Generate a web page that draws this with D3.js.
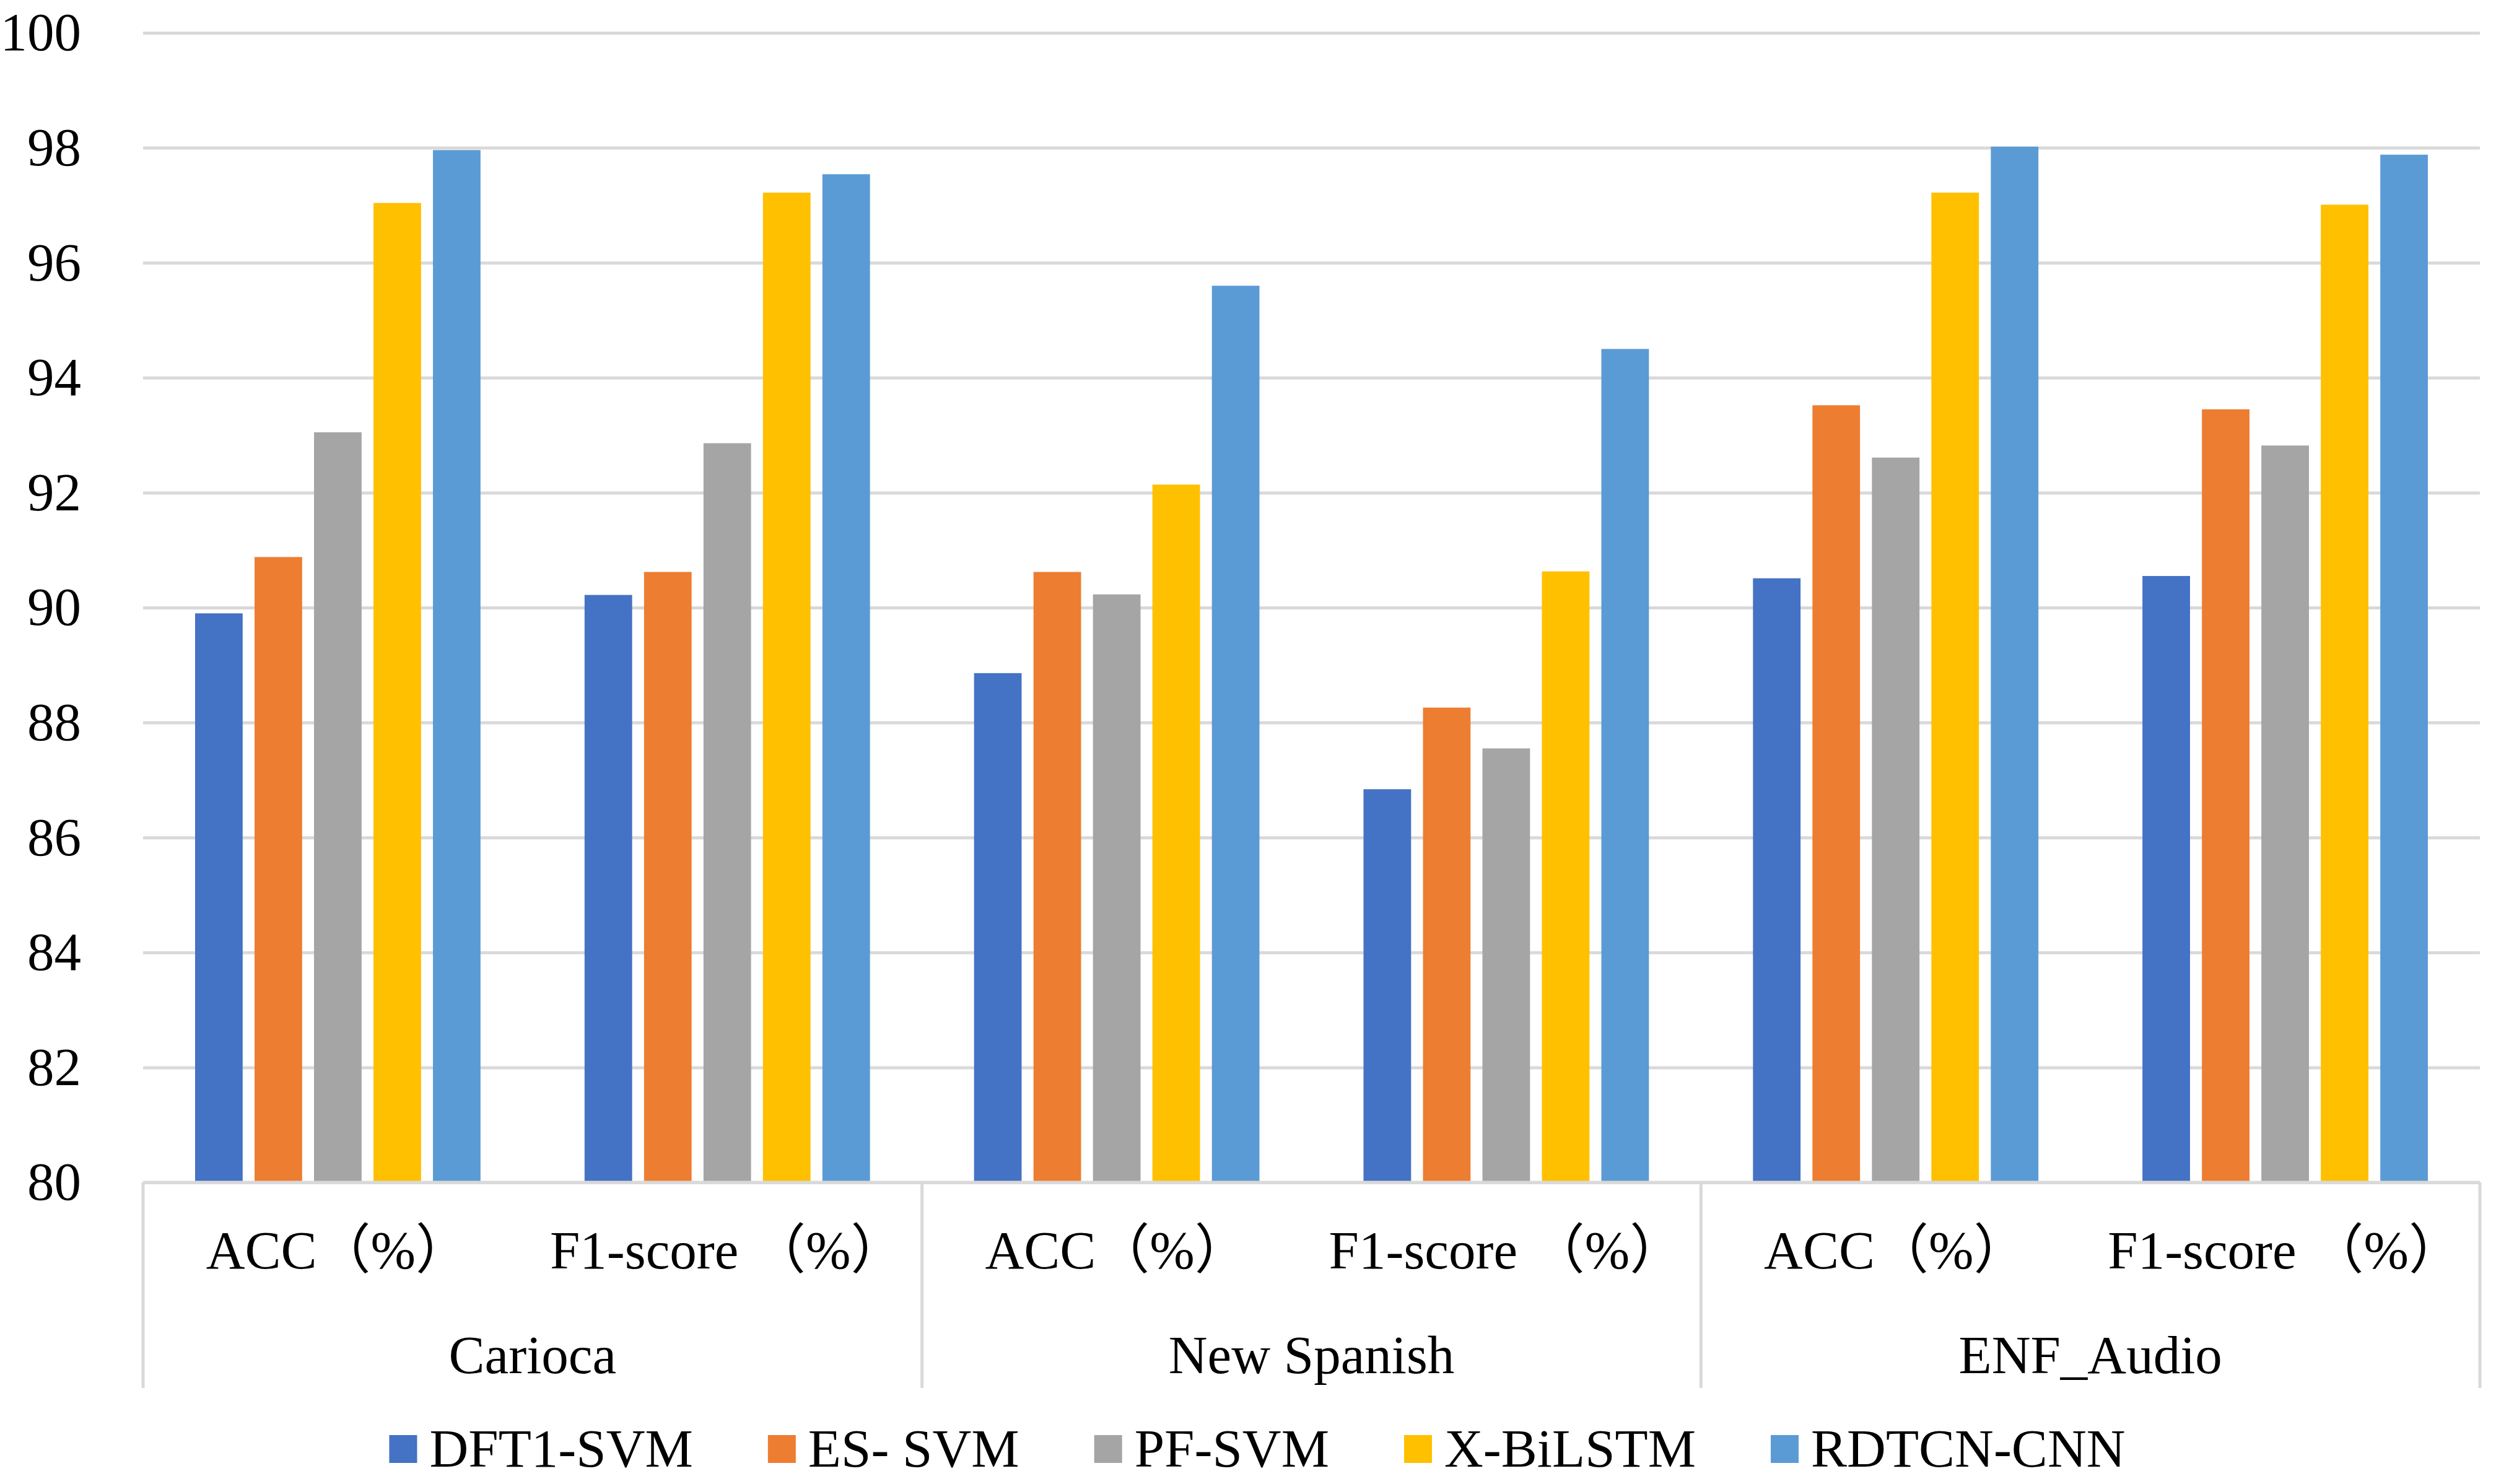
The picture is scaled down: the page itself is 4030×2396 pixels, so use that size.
<!DOCTYPE html>
<html>
<head>
<meta charset="utf-8">
<script src="https://cdn.jsdelivr.net/npm/d3@7"></script>
<style>
  body { margin: 0; background: #fff; }
  svg text { font-family: "Liberation Serif", "Times New Roman", "Noto Sans CJK SC", serif !important; fill: #000; }
</style>
</head>
<body>
<div id="chart"></div>
<script>
// data
const groups = ["Carioca", "New Spanish", "ENF_Audio"];
const metrics = ["ACC（%）", "F1-score （%）"];
const seriesNames = ["DFT1-SVM", "ES- SVM", "PF-SVM", "X-BiLSTM", "RDTCN-CNN"];
const seriesColors = ["#4472C4", "#ED7D31", "#A5A5A5", "#FFC000", "#5B9BD5"];
const yTicks = [80, 82, 84, 86, 88, 90, 92, 94, 96, 98, 100];

// one value per (group, metric): Carioca ACC, Carioca F1, New Spanish ACC, ...
const dft1Svm = [89.90, 90.22, 88.86, 86.84, 90.51, 90.55];
const esSvm = [90.88, 90.62, 90.62, 88.26, 93.52, 93.45];
const pfSvm = [93.05, 92.86, 90.23, 87.55, 92.61, 92.82];
const xBiLstm = [97.04, 97.22, 92.14, 90.63, 97.22, 97.01];
const rdtcnCnn = [97.96, 97.54, 95.60, 94.50, 98.02, 97.88];

const WIDTH = 4030;
const HEIGHT = 2396;
const PLOT = { left: 231, right: 4004, top: 53, bottom: 1909 };
const FONT_SIZE = 87;
const FONT = "'Liberation Serif', 'Times New Roman', 'Noto Sans CJK SC', serif";
const GRID = "#d9d9d9";

const seriesValues = [dft1Svm, esSvm, pfSvm, xBiLstm, rdtcnCnn];

// flat list of sub-categories
const slots = [];
groups.forEach((g) => metrics.forEach((m) => slots.push({ key: g + "|" + m, group: g, metric: m })));

const svg = d3
  .select("#chart")
  .append("svg")
  .attr("width", WIDTH)
  .attr("height", HEIGHT)
  .style("font-family", FONT);

svg.append("rect").attr("width", WIDTH).attr("height", HEIGHT).attr("fill", "#fff");

// scales
const y = d3.scaleLinear().domain([80, 100]).range([PLOT.bottom, PLOT.top]);

const xGroup = d3.scaleBand().domain(groups).range([PLOT.left, PLOT.right]).padding(0);

const xSlot = d3
  .scaleBand()
  .domain(slots.map((d) => d.key))
  .range([PLOT.left, PLOT.right])
  .padding(0);

const xSeries = d3
  .scaleBand()
  .domain(seriesNames)
  .range([84, xSlot.bandwidth() - 84])
  .paddingInner(0.2)
  .paddingOuter(0);

// gridlines + y labels
const yAxis = svg
  .append("g")
  .attr("class", "y-axis")
  .attr("transform", `translate(${PLOT.left},0)`)
  .call(
    d3
      .axisLeft(y)
      .tickValues(yTicks)
      .tickSize(-(PLOT.right - PLOT.left))
      .tickPadding(100)
      .tickFormat(d3.format("d"))
  );
yAxis.attr("font-family", null).attr("font-size", null);
yAxis.select(".domain").remove();
yAxis.selectAll("line").attr("stroke", GRID).attr("stroke-width", 5);
yAxis
  .selectAll("text")
  .attr("font-size", FONT_SIZE)
  .style("font-family", FONT)
  .attr("fill", "#000");

// bars
const barData = [];
slots.forEach((s, i) => {
  seriesNames.forEach((name, j) => {
    barData.push({ slot: s.key, name: name, value: seriesValues[j][i], color: seriesColors[j] });
  });
});

svg
  .append("g")
  .attr("class", "bars")
  .selectAll("rect")
  .data(barData)
  .enter()
  .append("rect")
  .attr("x", (d) => xSlot(d.slot) + xSeries(d.name))
  .attr("y", (d) => y(d.value))
  .attr("width", xSeries.bandwidth())
  .attr("height", (d) => y(80) - y(d.value))
  .attr("fill", (d) => d.color);

// base line drawn again over bars
svg
  .append("line")
  .attr("x1", PLOT.left)
  .attr("x2", PLOT.right)
  .attr("y1", y(80))
  .attr("y2", y(80))
  .attr("stroke", GRID)
  .attr("stroke-width", 5);

// group dividers under the axis
const dividerBottom = 2241;
const dividerX = groups.map((g) => xGroup(g)).concat([PLOT.right]);
svg
  .append("g")
  .selectAll("line")
  .data(dividerX)
  .enter()
  .append("line")
  .attr("x1", (d) => d)
  .attr("x2", (d) => d)
  .attr("y1", y(80))
  .attr("y2", dividerBottom)
  .attr("stroke", GRID)
  .attr("stroke-width", 5);

// metric labels
svg
  .append("g")
  .selectAll("text")
  .data(slots)
  .enter()
  .append("text")
  .attr("x", (d) => xSlot(d.key) + xSlot.bandwidth() / 2)
  .attr("y", 2048)
  .attr("text-anchor", "middle")
  .attr("font-size", FONT_SIZE)
  .style("font-family", FONT)
  .text((d) => d.metric);

// group labels
svg
  .append("g")
  .selectAll("text")
  .data(groups)
  .enter()
  .append("text")
  .attr("x", (d) => xGroup(d) + xGroup.bandwidth() / 2)
  .attr("y", 2217)
  .attr("text-anchor", "middle")
  .attr("font-size", FONT_SIZE)
  .style("font-family", FONT)
  .text((d) => d);

// legend
const legend = svg.append("g").attr("class", "legend");
const SWATCH = 45;
const SWATCH_GAP = 20;
const ITEM_GAP = 121;
let cursor = 0;
seriesNames.forEach((name, i) => {
  const item = legend.append("g").attr("transform", `translate(${cursor},0)`);
  item
    .append("rect")
    .attr("x", 0)
    .attr("y", 2317)
    .attr("width", SWATCH)
    .attr("height", SWATCH)
    .attr("fill", seriesColors[i]);
  const t = item
    .append("text")
    .attr("x", SWATCH + SWATCH_GAP)
    .attr("y", 2368)
    .attr("font-size", FONT_SIZE)
    .style("font-family", FONT)
    .text(name);
  cursor += SWATCH + SWATCH_GAP + t.node().getComputedTextLength() + ITEM_GAP;
});
const legendWidth = cursor - ITEM_GAP;
legend.attr("transform", `translate(${2030 - legendWidth / 2},0)`);
</script>
</body>
</html>
